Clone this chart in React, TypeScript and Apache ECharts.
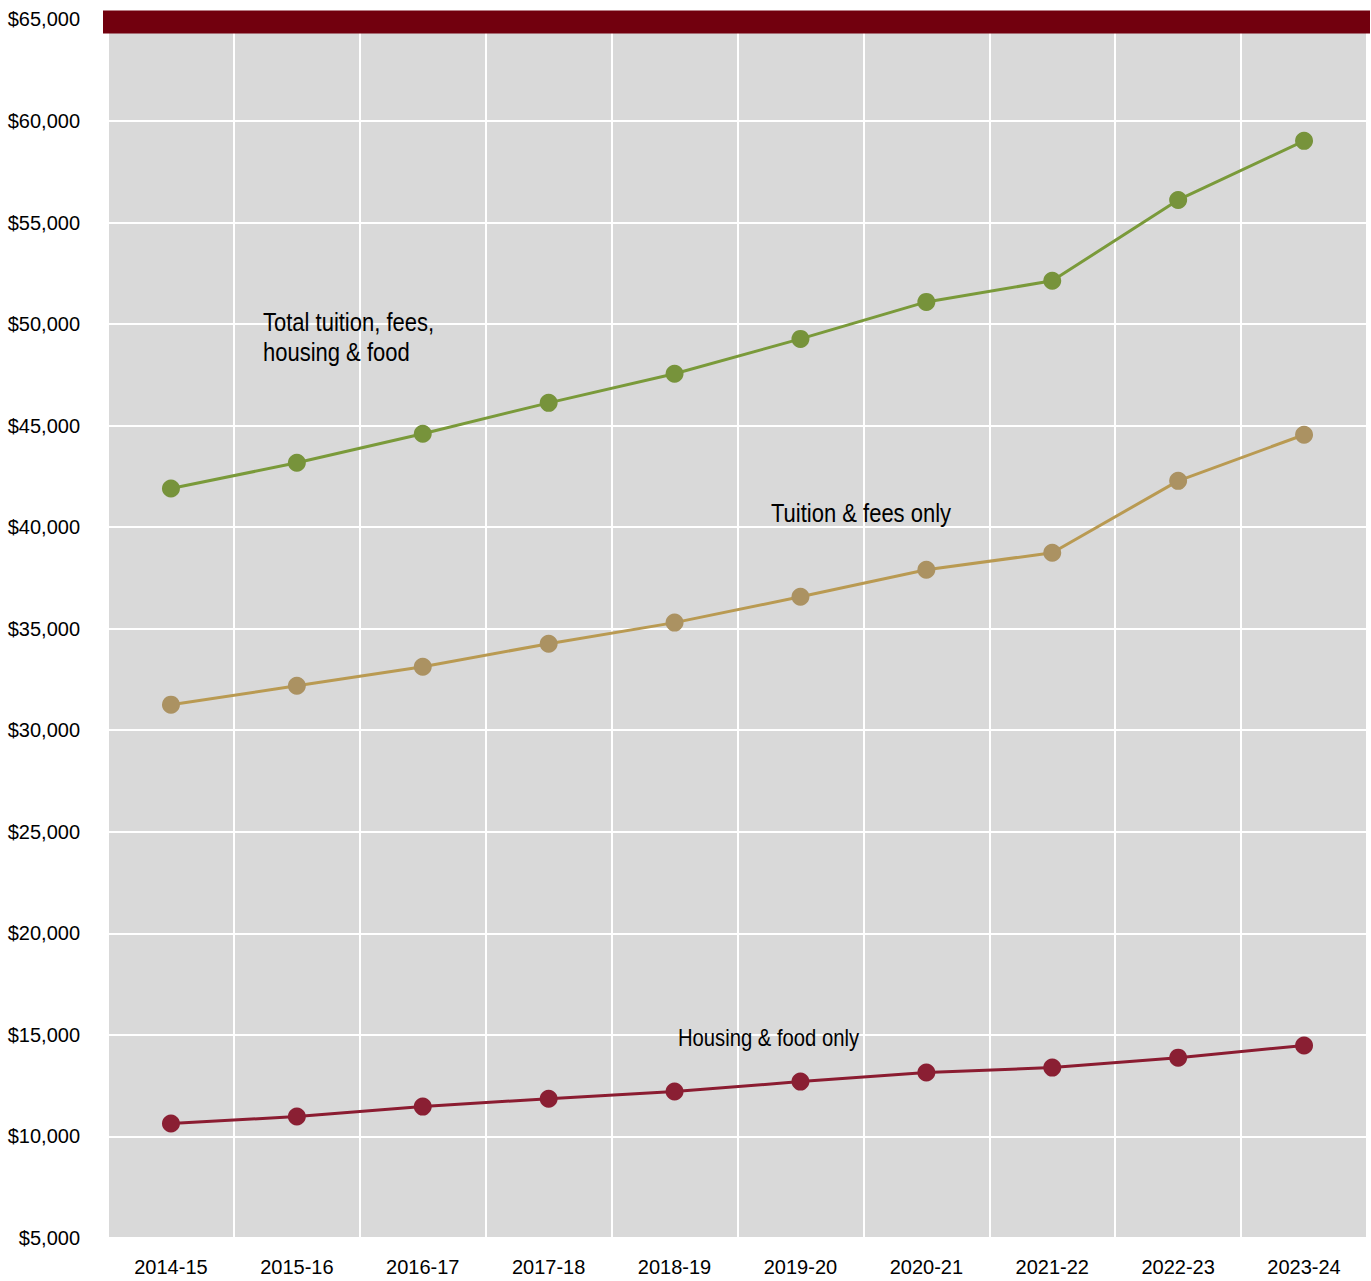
import React, { useEffect, useRef } from "react";
import * as echarts from "echarts";

const categories = ["2014-15", "2015-16", "2016-17", "2017-18", "2018-19", "2019-20", "2020-21", "2021-22", "2022-23", "2023-24"];
const totalCost = [41900, 43170, 44600, 46120, 47550, 49270, 51090, 52130, 56110, 59020];
const tuitionFees = [31260, 32190, 33130, 34260, 35300, 36570, 37900, 38740, 42280, 44550];
const housingFood = [10640, 10980, 11470, 11860, 12210, 12700, 13150, 13390, 13880, 14480];

const FONT = "'Liberation Sans', Arial, sans-serif";

export default function App() {
  const ref = useRef<HTMLDivElement>(null);
  useEffect(() => {
    document.body.style.margin = "0";
    const chart = echarts.init(ref.current!, null, { renderer: "svg" });
    const mkSeries = (name: string, data: number[], line: string, dot: string) => ({
      name,
      type: "line",
      data,
      symbol: "circle",
      symbolSize: 18,
      lineStyle: { color: line, width: 3 },
      itemStyle: { color: dot },
      z: 3,
    });
    chart.setOption({
      animation: false,
      backgroundColor: "#ffffff",
      textStyle: { fontFamily: FONT },
      grid: {
        left: 108,
        right: 4,
        top: 19.4,
        bottom: 43,
        show: true,
        backgroundColor: "#d9d9d9",
        borderWidth: 0,
        containLabel: false,
        outerBoundsMode: "none",
      },
      xAxis: {
        type: "category",
        data: categories,
        boundaryGap: true,
        axisLine: { show: false },
        axisTick: { show: false },
        axisLabel: { color: "#000", fontSize: 20, fontFamily: FONT, margin: 19 },
        splitLine: { show: true, lineStyle: { color: "#ffffff", width: 2 } },
      },
      yAxis: {
        type: "value",
        min: 5000,
        max: 65000,
        interval: 5000,
        axisLine: { show: false },
        axisTick: { show: false },
        axisLabel: {
          color: "#000",
          fontSize: 20,
          fontFamily: FONT,
          margin: 28,
          formatter: (v: number) => "$" + v.toLocaleString("en-US"),
        },
        splitLine: { show: true, lineStyle: { color: "#ffffff", width: 2 } },
      },
      graphic: [
        { type: "rect", shape: { x: 103, y: 10.5, width: 1267, height: 23 }, style: { fill: "#72000e" }, z: 10 },
        {
          type: "text",
          x: 263,
          y: 308,
          scaleX: 0.88,
          style: { text: "Total tuition, fees,\nhousing & food", font: `25px ${FONT}`, fill: "#000", lineHeight: 30 },
          z: 10,
        },
        {
          type: "text",
          x: 771,
          y: 501,
          scaleX: 0.88,
          style: { text: "Tuition & fees only", font: `25px ${FONT}`, fill: "#000" },
          z: 10,
        },
        {
          type: "text",
          x: 678,
          y: 1027,
          scaleX: 0.88,
          style: { text: "Housing & food only", font: `23px ${FONT}`, fill: "#000" },
          z: 10,
        },
      ],
      series: [
        mkSeries("Total tuition, fees, housing & food", totalCost, "#7a9a3a", "#77933b"),
        mkSeries("Tuition & fees only", tuitionFees, "#b99a52", "#ab9262"),
        mkSeries("Housing & food only", housingFood, "#8b1c31", "#8a1f33"),
      ],
    });
    return () => chart.dispose();
  }, []);
  return <div ref={ref} style={{ position: "absolute", left: 0, top: 0, width: 1371, height: 1281 }} />;
}
